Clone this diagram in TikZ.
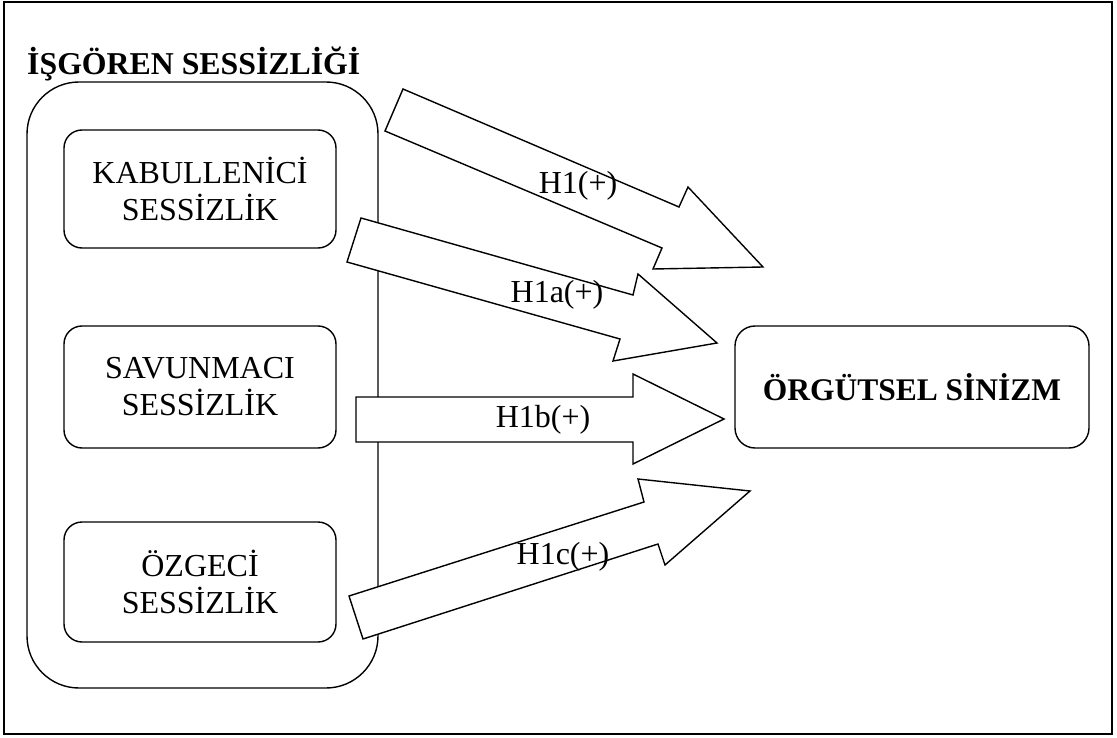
\documentclass[tikz,border=0pt]{standalone}
\usepackage{fontspec}
\setmainfont{Liberation Serif}
\begin{document}
\begin{tikzpicture}[x=1pt,y=-1pt,line join=miter,
  ln/.style={draw=black,line width=1.4pt},
  inbox/.style={ln,rounded corners=18pt,minimum width=272pt,minimum height=118pt,align=center,font=\fontsize{32}{37}\selectfont,inner sep=0pt},
  blk/.style={ln,fill=white},
  lab/.style={font=\fontsize{32}{36}\selectfont,inner sep=0pt}]
\useasboundingbox (0,0) rectangle (1117,738);
\draw[ln] (4,2) rectangle (1112,734);
\node[anchor=base west,inner sep=0pt,font=\fontsize{31.8}{36}\bfseries\selectfont] (title) at (27,75) {İŞGÖREN SESSİZLİĞİ};
\draw[ln,rounded corners=52pt] (27,82) rectangle (378,688);
\node[inbox] (kab) at (200,189) {KABULLENİCİ\\SESSİZLİK};
\node[inbox,minimum height=122pt] (sav) at (200,387) {SAVUNMACI\\SESSİZLİK};
\node[inbox,minimum height=120pt] (ozg) at (200,582) {ÖZGECİ\\SESSİZLİK};
\node[ln,rounded corners=20pt,minimum width=354pt,minimum height=122pt,inner sep=0pt,font=\fontsize{31.5}{38}\bfseries\selectfont] (org) at (912,387) {ÖRGÜTSEL SİNİZM};
% block arrows
\draw[blk] (403,89) -- (679,207) -- (688,187) -- (763,267) -- (653,269) -- (662,248) -- (385,131) -- cycle;
\draw[blk] (361,218) -- (633,295) -- (638,274) -- (717,343) -- (613,361) -- (620,339) -- (347,262) -- cycle;
\draw[blk] (356,397) -- (633,397) -- (633,374) -- (724,419) -- (633,464) -- (633,442) -- (356,442) -- cycle;
\draw[blk] (349,596) -- (644,502) -- (638,479) -- (750,491) -- (665,565) -- (658,544) -- (363,639) -- cycle;
\node[lab] (l1) at (578,186) {H1(+)};
\node[lab] (l1a) at (557,295) {H1a(+)};
\node[lab] (l1b) at (543,420) {H1b(+)};
\node[lab] (l1c) at (563,557) {H1c(+)};
\end{tikzpicture}
\end{document}
